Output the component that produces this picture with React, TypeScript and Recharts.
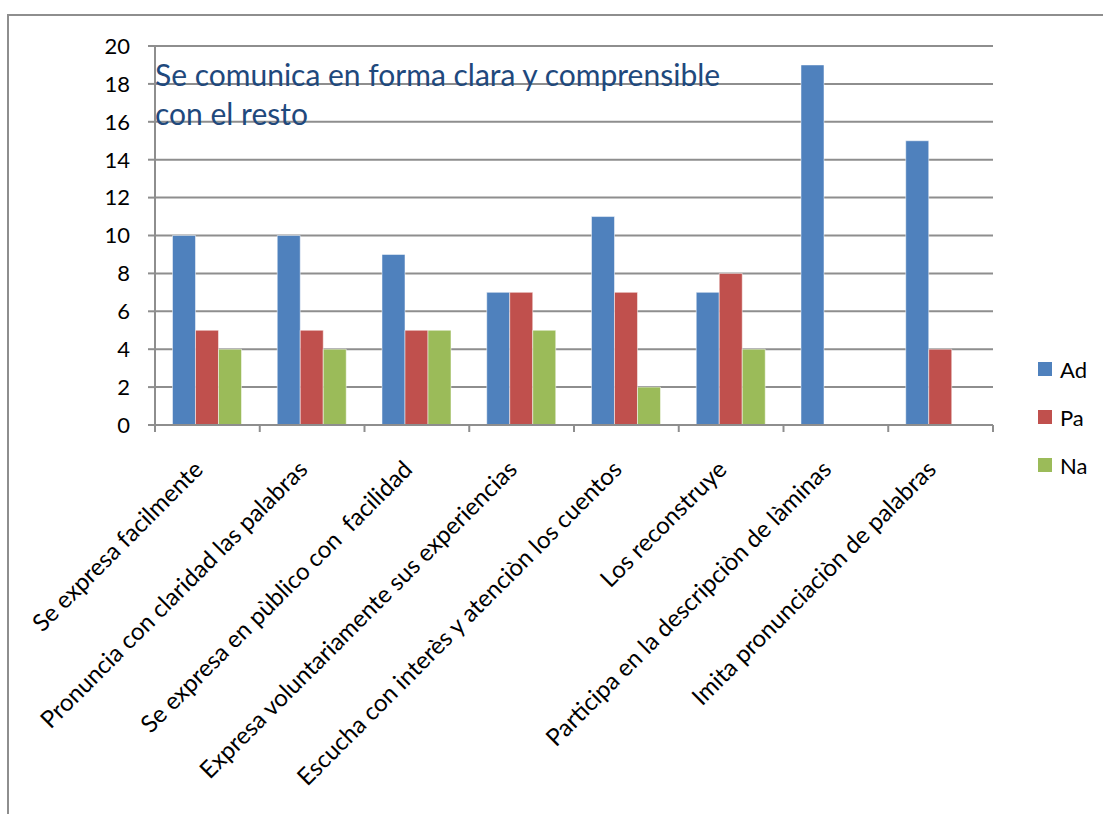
import { BarChart, Bar, XAxis, YAxis, CartesianGrid, Legend } from 'recharts';

const categories = [
  'Se expresa facilmente',
  'Pronuncia con claridad las palabras',
  'Se expresa en pùblico con  facilidad',
  'Expresa voluntariamente sus experiencias',
  'Escucha con interès y atenciòn los cuentos',
  'Los reconstruye',
  'Participa en la descripciòn de làminas',
  'Imita pronunciaciòn de palabras',
];
const adValues = [10, 10, 9, 7, 11, 7, 19, 15];
const paValues = [5, 5, 5, 7, 7, 8, 0, 4];
const naValues = [4, 4, 5, 5, 2, 4, 0, 0];
const yTicks = [0, 2, 4, 6, 8, 10, 12, 14, 16, 18, 20];
const seriesNames = ['Ad', 'Pa', 'Na'];
const titleLines = ['Se comunica en forma clara y comprensible', 'con el resto'];

const COLORS = ['#4F81BD', '#C0504D', '#9BBB59'];
const GRID = '#8E8E8E';
const FONT = 'Lato, "Open Sans", sans-serif';

const chartData = categories.map((name, i) => ({
  name,
  Ad: adValues[i],
  Pa: paValues[i],
  Na: naValues[i],
}));

// category axis: boundary tick marks + labels slanted at 45 degrees
function CategoryTick(props: any) {
  const { x, y, payload, index } = props;
  const half = payload.offset ?? 0;
  const isLast = index === categories.length - 1;
  return (
    <g>
      <line x1={x - half} y1={y} x2={x - half} y2={y + 7} stroke={GRID} strokeWidth={2} />
      {isLast && <line x1={x + half} y1={y} x2={x + half} y2={y + 7} stroke={GRID} strokeWidth={2} />}
      <text
        transform={`translate(${x - 3},${y + 46}) rotate(-45)`}
        textAnchor="end"
        fontSize={24}
        fontFamily={FONT}
        fill="#000"
        style={{ whiteSpace: 'pre' }}
      >
        {payload.value}
      </text>
    </g>
  );
}

function SeriesLegend() {
  return (
    <div style={{ fontFamily: FONT }}>
      {seriesNames.map((n, i) => (
        <div key={n} style={{ display: 'flex', alignItems: 'center', height: 48 }}>
          <span style={{ width: 14, height: 14, background: COLORS[i], display: 'inline-block' }} />
          <span style={{ marginLeft: 8, fontSize: 22, color: '#000' }}>{n}</span>
        </div>
      ))}
    </div>
  );
}

export default function App() {
  return (
    <div style={{ position: 'absolute', left: 0, top: 0, width: 1103, height: 814, overflow: 'hidden', background: '#fff' }}>
      <div
        style={{
          position: 'absolute',
          left: 7,
          top: 14,
          width: 1200,
          height: 900,
          borderTop: `2px solid ${GRID}`,
          borderLeft: `2px solid ${GRID}`,
        }}
      />
      <div style={{ position: 'absolute', left: 0, top: 0 }}>
        <BarChart
          width={1103}
          height={814}
          data={chartData}
          margin={{ top: 46, right: 110, left: 0, bottom: 0 }}
          barCategoryGap="16.7%"
          barGap={0}
        >
          <CartesianGrid vertical={false} stroke={GRID} strokeWidth={2} />
          <XAxis
            dataKey="name"
            interval={0}
            height={389}
            tickSize={0}
            tickMargin={0}
            tickLine={false}
            axisLine={{ stroke: GRID, strokeWidth: 2 }}
            tick={<CategoryTick />}
          />
          <YAxis
            width={155}
            domain={[0, 20]}
            ticks={yTicks}
            interval={0}
            tickSize={7}
            tickMargin={18}
            axisLine={{ stroke: GRID, strokeWidth: 2 }}
            tickLine={{ stroke: GRID, strokeWidth: 2 }}
            tick={{ fill: '#000', fontSize: 22, fontFamily: FONT }}
          />
          <Legend
            content={SeriesLegend}
            layout="vertical"
            align="center"
            verticalAlign="middle"
            wrapperStyle={{ left: 1038, top: 345, width: 65 }}
          />
          {seriesNames.map((n, i) => (
            <Bar key={n} dataKey={n} fill={COLORS[i]} stroke="#ffffff" strokeOpacity={0.5} strokeWidth={1} isAnimationActive={false} />
          ))}
          {titleLines.map((line, i) => (
            <text key={i} x={155} y={86 + i * 39} fontSize={30} fontFamily={FONT} fill="#1F497D">
              {line}
            </text>
          ))}
        </BarChart>
      </div>
    </div>
  );
}
